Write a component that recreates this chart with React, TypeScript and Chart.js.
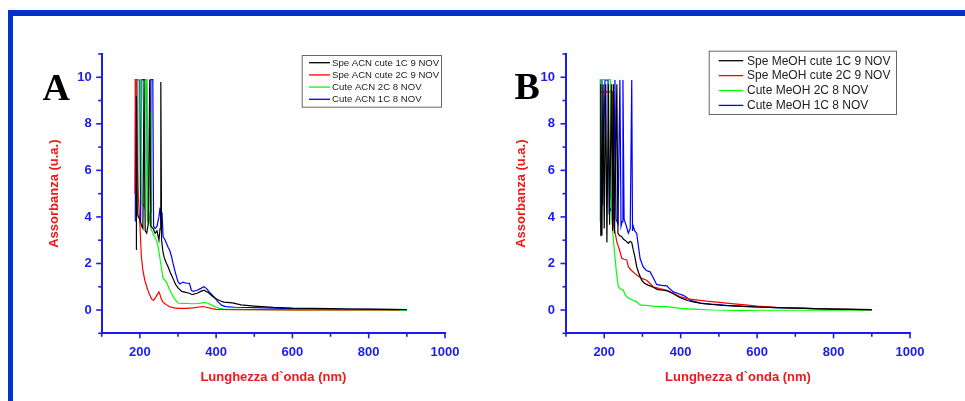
import React, { useEffect, useRef } from 'react';
import { Chart, registerables } from 'chart.js';

Chart.register(...registerables);

// ---------- axis / tick labels ----------
const xTickLabels = ['200', '400', '600', '800', '1000'];
const yTickLabels = ['0', '2', '4', '6', '8', '10'];
const xTitle = 'Lunghezza d`onda (nm)';
const yTitle = 'Assorbanza (u.a.)';

// ---------- Panel A (ACN) ----------
const aLabels = ['Spe ACN cute 1C 9 NOV', 'Spe ACN cute 2C 9 NOV', 'Cute ACN 2C 8 NOV', 'Cute ACN 1C 8 NOV'];

const aBlackX = [190, 191, 193, 196, 200, 205, 208, 211, 214, 218, 222, 226, 229, 235, 240, 245, 250, 253, 255, 257, 261, 265, 270, 274, 280, 287, 293, 300, 310, 320, 330, 337, 350, 360, 368, 380, 391, 400, 410, 420, 443, 465, 500, 550, 600, 650, 700, 750, 800, 850, 900];
const aBlackY = [2.6, 9.2, 4.2, 4.0, 3.9, 3.6, 3.5, 9.9, 3.4, 3.3, 3.7, 9.9, 3.6, 3.5, 3.3, 3.4, 3.0, 3.5, 9.8, 3.0, 2.45, 2.2, 2.0, 1.86, 1.6, 1.36, 1.12, 0.95, 0.8, 0.76, 0.72, 0.66, 0.72, 0.8, 0.85, 0.74, 0.58, 0.48, 0.4, 0.34, 0.31, 0.22, 0.17, 0.11, 0.08, 0.07, 0.06, 0.045, 0.035, 0.025, 0.02];

const aRedX = [187, 188, 192, 194, 196, 200, 204, 208, 213, 220, 226, 232, 236, 240, 245, 250, 253, 256, 260, 265, 272, 278, 290, 300, 320, 340, 355, 365, 375, 390, 400, 450, 500, 600, 700, 800, 880];
const aRedY = [5.0, 9.9, 9.9, 6.0, 4.9, 3.7, 2.3, 1.7, 1.28, 0.9, 0.63, 0.45, 0.42, 0.5, 0.65, 0.78, 0.65, 0.49, 0.35, 0.28, 0.2, 0.14, 0.09, 0.07, 0.07, 0.09, 0.13, 0.15, 0.12, 0.06, 0.03, 0.02, 0.015, 0.01, 0.01, 0.01, 0.01];

const aGreenX = [194, 195, 203, 205, 209, 212, 215, 218, 220, 224, 227, 229, 232, 236, 239, 244, 248, 252, 256, 261, 265, 270, 276, 283, 290, 296, 300, 310, 320, 335, 350, 360, 370, 380, 390, 400, 410, 420, 450, 500, 600, 700, 800, 900];
const aGreenY = [4.2, 9.9, 9.9, 4.6, 4.5, 4.4, 9.9, 9.9, 3.8, 3.7, 8.5, 3.5, 3.4, 3.2, 3.15, 2.95, 2.72, 2.3, 1.86, 1.36, 1.3, 1.2, 0.95, 0.71, 0.5, 0.38, 0.3, 0.28, 0.29, 0.27, 0.28, 0.3, 0.33, 0.28, 0.2, 0.12, 0.07, 0.04, 0.03, 0.02, 0.01, 0.01, 0.0, 0.0];

const aBlueX = [188, 190, 200, 202, 205, 218, 220, 224, 227, 229, 234, 236, 240, 245, 250, 253, 256, 258, 261, 265, 270, 274, 278, 283, 287, 291, 295, 300, 305, 313, 322, 330, 335, 340, 350, 360, 368, 375, 385, 395, 405, 415, 425, 450, 500, 550, 600, 700, 800, 900];
const aBlueY = [3.8, 9.9, 9.9, 3.8, 9.9, 9.9, 4.0, 3.8, 4.2, 9.9, 9.9, 3.6, 3.5, 3.6, 4.0, 4.4, 3.6, 4.2, 3.15, 3.05, 2.86, 2.7, 2.58, 2.3, 2.0, 1.75, 1.5, 1.22, 1.12, 1.2, 1.15, 1.15, 0.85, 0.8, 0.85, 0.93, 1.0, 0.92, 0.72, 0.55, 0.35, 0.2, 0.15, 0.12, 0.1, 0.08, 0.06, 0.04, 0.03, 0.02];

// ---------- Panel B (MeOH) ----------
const bLabels = ['Spe MeOH cute 1C 9 NOV', 'Spe MeOH cute 2C 9 NOV', 'Cute MeOH 2C 8 NOV', 'Cute MeOH 1C 8 NOV'];

const bBlackX = [190, 191, 194, 197, 200, 204, 207, 211, 214, 219, 222, 224, 227, 233, 236, 240, 246, 250, 254, 258, 263, 268, 272, 276, 280, 285, 290, 298, 305, 315, 328, 340, 355, 365, 381, 395, 407, 420, 433, 460, 511, 560, 600, 650, 700, 750, 800, 850, 900];
const bBlackY = [3.2, 9.7, 3.2, 9.7, 3.5, 9.7, 2.9, 9.7, 3.66, 9.7, 3.4, 9.7, 3.3, 9.7, 3.3, 3.2, 3.15, 3.05, 3.0, 2.95, 2.86, 2.95, 2.9, 2.58, 2.3, 1.86, 1.6, 1.28, 1.15, 1.07, 0.98, 0.88, 0.85, 0.82, 0.7, 0.56, 0.48, 0.4, 0.35, 0.27, 0.2, 0.16, 0.13, 0.1, 0.08, 0.06, 0.04, 0.03, 0.02];

const bRedX = [190, 200, 210, 222, 223, 226, 230, 233, 240, 246, 252, 259, 263, 270, 285, 298, 311, 320, 328, 345, 364, 380, 398, 420, 440, 468, 520, 582, 600, 650, 700, 747, 800, 850, 900];
const bRedY = [9.37, 9.37, 9.37, 9.37, 3.8, 3.5, 3.2, 2.93, 2.58, 2.22, 2.18, 2.15, 1.86, 1.72, 1.5, 1.36, 1.28, 1.14, 1.0, 0.92, 0.85, 0.72, 0.58, 0.48, 0.44, 0.38, 0.3, 0.2, 0.17, 0.12, 0.09, 0.06, 0.04, 0.03, 0.02];

const bGreenX = [189, 191, 216, 218, 220, 224, 228, 232, 237, 243, 250, 255, 260, 265, 275, 285, 292, 298, 310, 328, 345, 363, 380, 398, 430, 485, 520, 555, 600, 700, 800, 900];
const bGreenY = [3.5, 9.9, 9.9, 5.0, 3.9, 3.0, 2.3, 1.6, 1.0, 0.9, 0.85, 0.65, 0.55, 0.5, 0.42, 0.35, 0.25, 0.2, 0.2, 0.17, 0.15, 0.15, 0.11, 0.07, 0.04, 0.0, -0.01, -0.03, -0.01, -0.01, -0.01, -0.01];

const bBlueX = [189, 190, 194, 196, 202, 210, 213, 219, 224, 228, 231, 236, 241, 244, 247, 249, 252, 258, 263, 268, 272, 274, 276, 280, 285, 289, 294, 302, 310, 320, 328, 337, 350, 364, 372, 381, 395, 407, 415, 425, 440, 451, 480, 520, 582, 650, 700, 800, 900];
const bBlueY = [3.8, 9.88, 9.88, 4.5, 9.88, 9.88, 4.2, 4.4, 3.8, 9.88, 3.9, 3.7, 9.88, 3.6, 3.8, 9.88, 3.9, 3.6, 3.3, 3.5, 9.88, 3.4, 3.6, 3.4, 3.3, 2.8, 2.2, 1.85, 1.7, 1.64, 1.4, 1.1, 1.06, 1.04, 0.9, 0.78, 0.7, 0.63, 0.55, 0.42, 0.35, 0.3, 0.25, 0.2, 0.15, 0.1, 0.08, 0.04, 0.01];

// ---------- styles ----------
const SERIES_COLORS = ['#000000', '#ff0000', '#00ff00', '#0000ff'];
const AXIS_BLUE = '#1c1cf0';
const TITLE_RED = '#f01818';
const FRAME_BLUE = '#0033cc';
const SANS = '"Liberation Sans", Arial, Helvetica, sans-serif';

const pts = (xs: number[], ys: number[]) => xs.map((x, i) => ({ x, y: ys[i] }));

const decorPlugin = {
  id: 'decor',
  afterDraw(chart: any, _args: any, o: any) {
    const ctx = chart.ctx;
    const area = chart.chartArea;
    const xs = chart.scales.x;
    const ys = chart.scales.y;
    ctx.save();
    // tick marks (major longer than minor)
    ctx.strokeStyle = AXIS_BLUE;
    ctx.lineWidth = 1.6;
    xs.ticks.forEach((t: any) => {
      const px = xs.getPixelForValue(t.value);
      const major = xTickLabels.includes(String(t.value));
      ctx.beginPath();
      ctx.moveTo(px, area.bottom);
      ctx.lineTo(px, area.bottom + (major ? 5 : 3.5));
      ctx.stroke();
    });
    ys.ticks.forEach((t: any) => {
      const py = ys.getPixelForValue(t.value);
      const major = yTickLabels.includes(String(t.value));
      ctx.beginPath();
      ctx.moveTo(area.left, py);
      ctx.lineTo(area.left - (major ? 5.5 : 3.5), py);
      ctx.stroke();
    });
    // legend box
    const L = o.legend;
    ctx.strokeStyle = '#666';
    ctx.lineWidth = 1;
    ctx.strokeRect(L.x + 0.5, L.y + 0.5, L.w, L.h);
    ctx.font = `${L.size}px ${SANS}`;
    ctx.textBaseline = 'middle';
    ctx.textAlign = 'left';
    chart.data.datasets.forEach((ds: any, i: number) => {
      const y = L.row0 + i * L.gap;
      ctx.strokeStyle = ds.borderColor;
      ctx.lineWidth = 1.3;
      ctx.beginPath();
      ctx.moveTo(L.lx0, y);
      ctx.lineTo(L.lx1, y);
      ctx.stroke();
      ctx.fillStyle = '#222';
      ctx.fillText(ds.label, L.tx, y + 0.5);
    });
    // panel letter
    ctx.font = `bold 38px "Liberation Serif", "Times New Roman", serif`;
    ctx.fillStyle = '#000';
    ctx.textBaseline = 'alphabetic';
    ctx.fillText(o.letter.text, o.letter.x, o.letter.y);
    ctx.restore();
  },
};

type PanelProps = {
  left: number;
  width: number;
  labels: string[];
  series: { x: number[]; y: number[] }[];
  yAxisWidth: number;
  padRight: number;
  yTitlePad: number;
  yTickPad: number;
  legend: any;
  letter: any;
};

function Panel(p: PanelProps) {
  const ref = useRef<HTMLCanvasElement>(null);
  useEffect(() => {
    if (!ref.current) return;
    const tickFont = { family: SANS, size: 13, weight: 'bold' as const };
    const titleFont = { family: SANS, size: 13, weight: 'bold' as const };
    const chart = new Chart(ref.current, {
      type: 'line',
      data: {
        datasets: p.series.map((s, i) => ({
          label: p.labels[i],
          data: pts(s.x, s.y),
          borderColor: SERIES_COLORS[i],
          backgroundColor: SERIES_COLORS[i],
          borderWidth: 1.2,
          pointRadius: 0,
          tension: 0,
          fill: false,
        })),
      },
      options: {
        animation: false,
        responsive: false,
        devicePixelRatio: 1,
        layout: { padding: { top: 54, right: p.padRight, bottom: 0, left: 0 } },
        plugins: {
          legend: { display: false },
          tooltip: { enabled: false },
          decor: { legend: p.legend, letter: p.letter },
        } as any,
        scales: {
          x: {
            type: 'linear',
            min: 100,
            max: 1000,
            afterFit: (s: any) => {
              s.height = 67.7;
            },
            ticks: {
              stepSize: 100,
              autoSkip: false,
              maxRotation: 0,
              padding: 11,
              color: AXIS_BLUE,
              font: tickFont,
              callback: (v: any) => (xTickLabels.includes(String(v)) ? String(v) : ''),
            },
            grid: { display: false, drawTicks: false },
            border: { display: true, color: AXIS_BLUE, width: 2 },
            title: {
              display: true,
              text: xTitle,
              color: TITLE_RED,
              font: titleFont,
              padding: { top: 0, bottom: 15.7 },
            },
          },
          y: {
            type: 'linear',
            min: -1,
            max: 11,
            afterFit: (s: any) => {
              s.width = p.yAxisWidth;
            },
            ticks: {
              stepSize: 1,
              autoSkip: false,
              padding: p.yTickPad,
              color: AXIS_BLUE,
              font: tickFont,
              callback: (v: any) => (yTickLabels.includes(String(v)) ? String(v) : ''),
            },
            grid: { display: false, drawTicks: false },
            border: { display: true, color: AXIS_BLUE, width: 2 },
            title: {
              display: true,
              text: yTitle,
              color: TITLE_RED,
              font: titleFont,
              padding: { top: p.yTitlePad, bottom: 0 },
            },
          },
        },
      } as any,
      plugins: [decorPlugin as any],
    });
    return () => chart.destroy();
  }, []);
  return (
    <canvas
      ref={ref}
      width={p.width}
      height={401}
      style={{ position: 'absolute', left: p.left, top: 0, width: p.width, height: 401 }}
    />
  );
}

export default function App() {
  return (
    <div style={{ position: 'absolute', left: 0, top: 0, width: 965, height: 401, background: '#fff', overflow: 'hidden' }}>
      <div style={{ position: 'absolute', left: 8, top: 10, width: 957, height: 6, background: FRAME_BLUE }} />
      <div style={{ position: 'absolute', left: 8, top: 10, width: 5, height: 391, background: FRAME_BLUE }} />
      <Panel
        left={0}
        width={480}
        labels={aLabels}
        series={[
          { x: aBlackX, y: aBlackY },
          { x: aRedX, y: aRedY },
          { x: aGreenX, y: aGreenY },
          { x: aBlueX, y: aBlueY },
        ]}
        yAxisWidth={101.7}
        padRight={35}
        yTitlePad={47}
        yTickPad={10}
        legend={{ x: 301.7, y: 55, w: 139.3, h: 51.7, row0: 62.7, gap: 12.2, lx0: 309, lx1: 330, tx: 332, size: 9.6 }}
        letter={{ text: 'A', x: 42.5, y: 100 }}
      />
      <Panel
        left={480}
        width={485}
        labels={bLabels}
        series={[
          { x: bBlackX, y: bBlackY },
          { x: bRedX, y: bRedY },
          { x: bGreenX, y: bGreenY },
          { x: bBlueX, y: bBlueY },
        ]}
        yAxisWidth={86}
        padRight={55}
        yTitlePad={33.7}
        yTickPad={11}
        legend={{ x: 228.7, y: 50.7, w: 187.3, h: 63.3, row0: 60.7, gap: 14.9, lx0: 238.7, lx1: 263.3, tx: 267, size: 12 }}
        letter={{ text: 'B', x: 34.5, y: 99 }}
      />
    </div>
  );
}
